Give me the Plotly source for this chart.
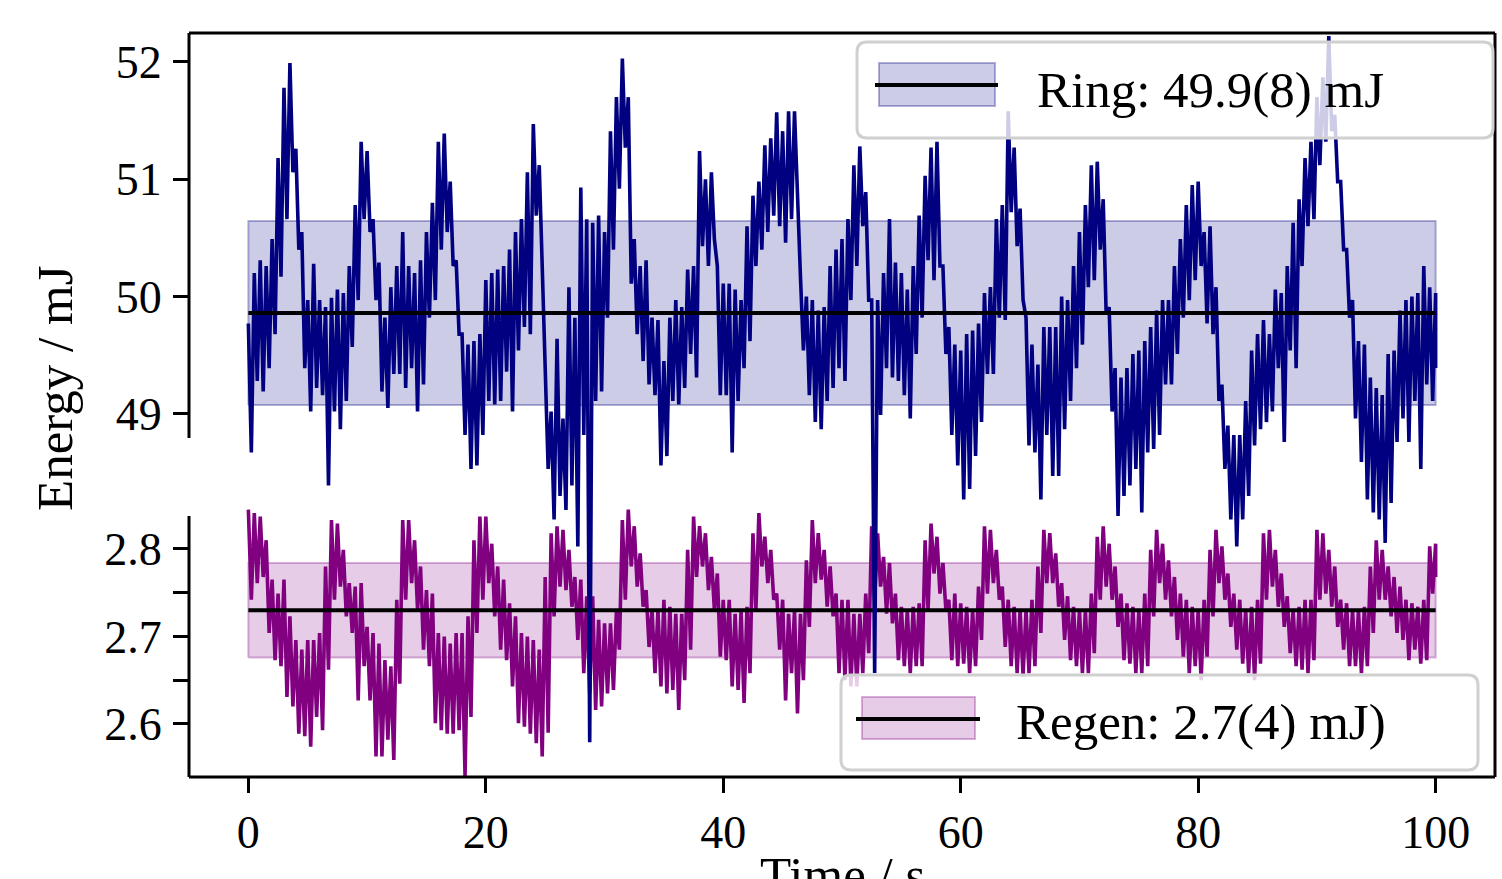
import plotly.graph_objects as go

# ---------------------------------------------------------------------------
# Pulse-energy logs, upper/lower excursion of the noisy trace every 0.5 s
# ---------------------------------------------------------------------------
STEP = 0.5  # s between readings

RING_HI = [
    49.77, 50.20, 50.31, 50.26, 50.49, 51.18, 51.78, 51.99, 51.26, 50.55,
    49.97, 50.28, 49.97, 49.91, 49.99, 50.06, 50.03, 50.26, 50.78, 51.32,
    51.24, 50.66, 50.29, 49.82, 50.08, 50.26, 50.55, 50.26, 50.20, 50.31,
    50.55, 50.80, 51.32, 51.39, 50.98, 50.31, 49.68, 49.59, 49.62, 49.68,
    50.14, 50.20, 50.23, 50.26, 50.40, 50.55, 50.66, 51.06, 51.47, 51.12,
    49.39, 49.02, 49.64, 48.96, 50.08, 49.82, 50.93, 50.66, 50.63, 50.69,
    50.55, 51.41, 51.70, 52.03, 51.70, 50.49, 50.26, 50.31, 49.82, 49.80,
    49.45, 49.82, 49.97, 49.91, 50.23, 50.26, 51.24, 51.00, 51.06, 50.26,
    50.11, 50.11, 50.06, 49.97, 50.60, 50.86, 50.98, 51.29, 51.35, 51.57,
    51.41, 51.58, 51.58, 50.17, 50.00, 49.97, 49.88, 49.91, 50.26, 50.40,
    50.49, 50.66, 51.12, 51.28, 50.89, 49.97, 49.97, 50.20, 50.66, 50.29,
    50.20, 50.06, 50.26, 50.69, 51.03, 51.27, 51.32, 50.26, 49.74, 49.59,
    49.54, 49.68, 49.71, 49.77, 50.03, 50.08, 50.66, 50.78, 51.58, 51.27,
    50.75, 49.82, 49.59, 49.42, 49.74, 49.74, 49.74, 50.00, 49.97, 50.26,
    50.55, 50.78, 51.12, 51.15, 50.83, 49.91, 49.39, 49.31, 49.39, 49.51,
    49.54, 49.62, 49.74, 49.88, 49.97, 49.97, 50.26, 50.49, 50.78, 50.95,
    50.98, 50.55, 50.60, 50.08, 49.25, 48.90, 48.82, 48.82, 49.11, 49.54,
    49.68, 49.80, 49.68, 50.06, 50.03, 50.26, 50.63, 50.83, 51.18, 51.32,
    51.70, 51.87, 52.22, 51.55, 50.98, 50.40, 49.97, 49.62, 49.59, 49.31,
    49.22, 49.16, 49.51, 49.54, 49.88, 49.97, 50.00, 50.03, 50.26, 50.08,
    50.03,
]
RING_LO = [
    48.67, 49.28, 49.19, 49.39, 49.68, 50.17, 50.66, 51.06, 50.40, 49.39,
    49.02, 49.22, 49.16, 48.39, 49.02, 48.87, 49.11, 49.57, 49.97, 50.66,
    50.55, 49.97, 49.19, 49.05, 49.34, 49.34, 49.22, 49.39, 49.02, 49.25,
    49.82, 49.97, 50.40, 50.55, 50.26, 49.68, 48.82, 48.53, 48.56, 48.82,
    49.11, 49.08, 49.11, 49.36, 49.02, 49.54, 49.74, 49.68, 50.69, 50.26,
    48.53, 48.10, 48.30, 48.18, 48.39, 47.87, 48.82, 46.20, 49.11, 49.19,
    49.82, 50.40, 50.92, 51.27, 50.11, 49.68, 49.45, 49.25, 49.16, 48.56,
    48.64, 49.11, 49.08, 49.22, 49.51, 49.31, 50.43, 50.26, 50.49, 49.16,
    49.16, 48.67, 49.11, 49.39, 49.62, 50.26, 50.40, 50.55, 50.69, 50.60,
    50.46, 50.66, 50.75, 49.54, 49.16, 48.93, 48.87, 49.11, 49.22, 49.39,
    49.28, 49.97, 50.26, 50.60, 49.97, 46.79, 48.99, 49.39, 49.31, 49.28,
    49.16, 48.96, 49.51, 49.82, 50.31, 50.14, 50.26, 49.51, 48.82, 48.56,
    48.27, 48.36, 48.64, 48.93, 49.34, 49.34, 49.82, 49.80, 50.72, 50.43,
    49.97, 48.73, 48.67, 48.27, 48.82, 48.47, 48.47, 48.87, 49.11, 49.39,
    49.59, 50.08, 50.14, 50.40, 49.85, 49.02, 48.13, 48.30, 48.39, 48.53,
    48.16, 48.67, 48.70, 48.82, 49.25, 49.25, 49.51, 49.82, 49.97, 50.14,
    50.26, 49.77, 49.68, 49.11, 48.53, 48.10, 47.87, 48.10, 48.30, 48.73,
    48.87, 48.93, 49.02, 49.39, 48.76, 49.54, 49.39, 50.26, 50.60, 50.66,
    51.12, 51.32, 51.41, 50.98, 50.40, 49.82, 48.96, 48.59, 48.27, 48.16,
    48.10, 47.90, 48.24, 48.76, 48.96, 48.76, 49.11, 48.53, 49.25, 49.11,
    49.39,
]
REGEN_HI = [
    2.845, 2.841, 2.837, 2.810, 2.765, 2.749, 2.765, 2.723, 2.696, 2.685,
    2.696, 2.696, 2.704, 2.780, 2.833, 2.829, 2.799, 2.761, 2.757, 2.761,
    2.711, 2.704, 2.692, 2.673, 2.666, 2.742, 2.833, 2.833, 2.810, 2.780,
    2.753, 2.749, 2.704, 2.700, 2.692, 2.704, 2.704, 2.723, 2.810, 2.837,
    2.837, 2.806, 2.780, 2.765, 2.738, 2.723, 2.704, 2.700, 2.696, 2.685,
    2.768, 2.818, 2.826, 2.822, 2.799, 2.768, 2.765, 2.746, 2.746, 2.719,
    2.715, 2.715, 2.730, 2.833, 2.845, 2.826, 2.795, 2.753, 2.730, 2.730,
    2.742, 2.734, 2.726, 2.726, 2.799, 2.837, 2.826, 2.818, 2.791, 2.772,
    2.742, 2.742, 2.726, 2.730, 2.734, 2.818, 2.841, 2.814, 2.799, 2.749,
    2.742, 2.726, 2.730, 2.726, 2.787, 2.833, 2.818, 2.799, 2.780, 2.749,
    2.742, 2.742, 2.726, 2.726, 2.749, 2.826, 2.818, 2.791, 2.784, 2.749,
    2.734, 2.730, 2.734, 2.738, 2.810, 2.829, 2.814, 2.784, 2.742, 2.749,
    2.738, 2.734, 2.730, 2.757, 2.826, 2.822, 2.799, 2.757, 2.742, 2.734,
    2.730, 2.730, 2.742, 2.780, 2.822, 2.818, 2.795, 2.761, 2.746, 2.734,
    2.730, 2.730, 2.749, 2.814, 2.826, 2.806, 2.780, 2.749, 2.738, 2.734,
    2.730, 2.749, 2.799, 2.822, 2.806, 2.787, 2.768, 2.749, 2.742, 2.734,
    2.730, 2.742, 2.799, 2.822, 2.803, 2.772, 2.749, 2.742, 2.730, 2.734,
    2.742, 2.818, 2.822, 2.799, 2.772, 2.746, 2.730, 2.734, 2.742, 2.742,
    2.822, 2.818, 2.799, 2.780, 2.742, 2.738, 2.730, 2.730, 2.734, 2.780,
    2.810, 2.799, 2.780, 2.768, 2.757, 2.742, 2.738, 2.734, 2.742, 2.803,
    2.806,
]
REGEN_LO = [
    2.742, 2.761, 2.768, 2.704, 2.673, 2.666, 2.631, 2.620, 2.589, 2.586,
    2.574, 2.608, 2.593, 2.662, 2.742, 2.757, 2.723, 2.704, 2.627, 2.666,
    2.627, 2.563, 2.563, 2.582, 2.559, 2.646, 2.742, 2.761, 2.730, 2.685,
    2.666, 2.601, 2.593, 2.589, 2.589, 2.593, 2.540, 2.608, 2.704, 2.742,
    2.761, 2.723, 2.685, 2.673, 2.643, 2.601, 2.597, 2.589, 2.578, 2.563,
    2.590, 2.723, 2.757, 2.753, 2.734, 2.696, 2.658, 2.635, 2.616, 2.620,
    2.635, 2.639, 2.685, 2.742, 2.780, 2.757, 2.734, 2.688, 2.658, 2.643,
    2.635, 2.639, 2.616, 2.650, 2.685, 2.768, 2.780, 2.753, 2.730, 2.677,
    2.673, 2.643, 2.639, 2.624, 2.658, 2.730, 2.780, 2.761, 2.742, 2.685,
    2.627, 2.658, 2.612, 2.650, 2.711, 2.761, 2.765, 2.734, 2.723, 2.658,
    2.650, 2.643, 2.643, 2.658, 2.681, 2.742, 2.757, 2.726, 2.715, 2.673,
    2.666, 2.658, 2.666, 2.666, 2.730, 2.772, 2.749, 2.730, 2.673, 2.666,
    2.669, 2.658, 2.666, 2.696, 2.749, 2.761, 2.742, 2.688, 2.666, 2.658,
    2.654, 2.658, 2.666, 2.704, 2.761, 2.761, 2.734, 2.696, 2.673, 2.666,
    2.658, 2.658, 2.681, 2.742, 2.757, 2.742, 2.711, 2.673, 2.669, 2.658,
    2.658, 2.666, 2.723, 2.761, 2.742, 2.723, 2.696, 2.677, 2.658, 2.666,
    2.650, 2.677, 2.723, 2.761, 2.742, 2.711, 2.685, 2.669, 2.658, 2.650,
    2.669, 2.742, 2.757, 2.734, 2.711, 2.681, 2.666, 2.662, 2.658, 2.673,
    2.742, 2.749, 2.734, 2.711, 2.685, 2.666, 2.666, 2.658, 2.666, 2.704,
    2.742, 2.742, 2.723, 2.704, 2.696, 2.673, 2.685, 2.669, 2.673, 2.749,
    2.768,
]

# Summary statistics shown as band (mean +/- std) and legend text
RING_MEAN, RING_STD = 49.86, 0.785
REGEN_MEAN, REGEN_STD = 2.730, 0.054
RING_LABEL = "Ring: 49.9(8) mJ"
REGEN_LABEL = "Regen: 2.7(4) mJ)"
X_TICKS = [0, 20, 40, 60, 80, 100]
RING_TICKS = [49, 50, 51, 52]
REGEN_TICKS = [2.6, 2.65, 2.7, 2.75, 2.8]
REGEN_TICKTEXT = ["2.6", "", "2.7", "", "2.8"]

# ---------------------------------------------------------------------------
NAVY = "#000080"
PURPLE = "#800080"
FONT = "Liberation Serif, Times New Roman, serif"
TRACE_W = 3.6

W, H = 1502, 879
ML, MR, MT, MB = 189, 7, 33, 102
PW, PH = W - ML - MR, H - MT - MB


def fx(xp):
    return (xp - ML) / PW


def fy(yp):
    return (H - MB - yp) / PH


def trace_xy(hi, lo):
    """Alternate between the upper and lower reading of each sample."""
    xs, ys = [], []
    for i, (h, l) in enumerate(zip(hi, lo)):
        t = i * STEP
        xs += [t, min(t + STEP / 2, (len(hi) - 1) * STEP)]
        ys += [h, l]
    return xs, ys


t_end = (len(RING_HI) - 1) * STEP
fig = go.Figure()

# Regen (primary y axis)
fig.add_trace(go.Scatter(
    x=[0, t_end, t_end, 0, 0],
    y=[REGEN_MEAN - REGEN_STD] * 2 + [REGEN_MEAN + REGEN_STD] * 2 + [REGEN_MEAN - REGEN_STD],
    fill="toself", fillcolor="rgba(128,0,128,0.2)",
    line=dict(color="rgba(128,0,128,0.3)", width=2), mode="lines",
    yaxis="y", hoverinfo="skip"))
rx, ry = trace_xy(REGEN_HI, REGEN_LO)
fig.add_trace(go.Scatter(x=rx, y=ry, mode="lines",
                         line=dict(color=PURPLE, width=TRACE_W), yaxis="y"))
fig.add_trace(go.Scatter(x=[0, t_end], y=[REGEN_MEAN] * 2, mode="lines",
                         line=dict(color="black", width=4), yaxis="y"))

# Ring (overlaid y axis, drawn on top)
fig.add_trace(go.Scatter(
    x=[0, t_end, t_end, 0, 0],
    y=[RING_MEAN - RING_STD] * 2 + [RING_MEAN + RING_STD] * 2 + [RING_MEAN - RING_STD],
    fill="toself", fillcolor="rgba(0,0,128,0.2)",
    line=dict(color="rgba(0,0,128,0.3)", width=2), mode="lines",
    yaxis="y2", hoverinfo="skip"))
gx, gy = trace_xy(RING_HI, RING_LO)
fig.add_trace(go.Scatter(x=gx, y=gy, mode="lines",
                         line=dict(color=NAVY, width=TRACE_W), yaxis="y2"))
fig.add_trace(go.Scatter(x=[0, t_end], y=[RING_MEAN] * 2, mode="lines",
                         line=dict(color="black", width=4), yaxis="y2"))

tickfont = dict(family=FONT, size=46, color="black")
common = dict(ticks="outside", ticklen=15, tickwidth=3, tickcolor="black",
              showline=False, showgrid=False, zeroline=False, tickfont=tickfont)

fig.update_layout(
    width=W, height=H,
    margin=dict(l=ML, r=MR, t=MT, b=MB, pad=0),
    paper_bgcolor="white", plot_bgcolor="white",
    showlegend=False,
    xaxis=dict(range=[-5, 105], tickmode="array", tickvals=X_TICKS,
               ticklabelstandoff=0, **common),
    yaxis=dict(range=[2.5394, 3.3897], tickmode="array", tickvals=REGEN_TICKS,
               ticktext=REGEN_TICKTEXT, anchor="x", side="left",
               ticklabelstandoff=2, **common),
    yaxis2=dict(range=[45.904, 52.247], tickmode="array", tickvals=RING_TICKS,
                overlaying="y", anchor="x", side="left",
                ticklabelstandoff=2, **common),
)

# Frame with a split left spine
shapes = []
frame = dict(type="line", xref="paper", yref="paper",
             line=dict(color="black", width=3), layer="above")
for (x0, y0, x1, y1) in [(189, 33, 1495, 33), (1495, 33, 1495, 777),
                         (189, 777, 1495, 777), (189, 33, 189, 438),
                         (189, 516, 189, 777)]:
    shapes.append(dict(frame, x0=fx(x0), y0=fy(y0), x1=fx(x1), y1=fy(y1)))


def rounded_box(x0, y0, x1, y1, r):
    pts = [
        ("M", x0 + r, y0), ("L", x1 - r, y0), ("Q", x1, y0, x1, y0 + r),
        ("L", x1, y1 - r), ("Q", x1, y1, x1 - r, y1), ("L", x0 + r, y1),
        ("Q", x0, y1, x0, y1 - r), ("L", x0, y0 + r), ("Q", x0, y0, x0 + r, y0),
    ]
    out = []
    for p in pts:
        cmd, coords = p[0], p[1:]
        xy = []
        for k in range(0, len(coords), 2):
            xy.append(f"{fx(coords[k]):.5f},{fy(coords[k + 1]):.5f}")
        out.append(cmd + " ".join(xy))
    return " ".join(out) + " Z"


def legend(box, patch, line_y, line_x, text_x, text_y, text, fill, edge):
    shapes.append(dict(type="path", xref="paper", yref="paper", layer="above",
                       path=rounded_box(*box, 10),
                       fillcolor="rgba(255,255,255,0.8)",
                       line=dict(color="rgb(208,208,208)", width=3)))
    shapes.append(dict(type="rect", xref="paper", yref="paper", layer="above",
                       x0=fx(patch[0]), y0=fy(patch[1]), x1=fx(patch[2]), y1=fy(patch[3]),
                       fillcolor=fill, line=dict(color=edge, width=2)))
    shapes.append(dict(type="line", xref="paper", yref="paper", layer="above",
                       x0=fx(line_x[0]), x1=fx(line_x[1]), y0=fy(line_y), y1=fy(line_y),
                       line=dict(color="black", width=4)))
    fig.add_annotation(x=fx(text_x), y=fy(text_y), xref="paper", yref="paper",
                       text=text, showarrow=False, xanchor="left", yanchor="middle",
                       font=dict(family=FONT, size=51, color="black"))


legend((857, 42, 1493, 138), (879, 63, 995, 106), 85, (875, 998), 1035, 90,
       RING_LABEL, "rgba(0,0,128,0.2)", "rgba(0,0,128,0.3)")
legend((841, 675, 1478, 770), (862, 697, 975, 739), 719, (856, 980), 1014, 722,
       REGEN_LABEL, "rgba(128,0,128,0.2)", "rgba(128,0,128,0.3)")

fig.update_layout(shapes=shapes)

# Axis titles
fig.add_annotation(x=fx(55), y=fy(388), xref="paper", yref="paper",
                   text="Energy / mJ", textangle=-90, showarrow=False,
                   xanchor="center", yanchor="middle",
                   font=dict(family=FONT, size=51, color="black"))
fig.add_annotation(x=fx(842), y=fy(845), xref="paper", yref="paper",
                   text="Time / s", showarrow=False,
                   xanchor="center", yanchor="top",
                   font=dict(family=FONT, size=51, color="black"))

fig.write_html("out.html")
